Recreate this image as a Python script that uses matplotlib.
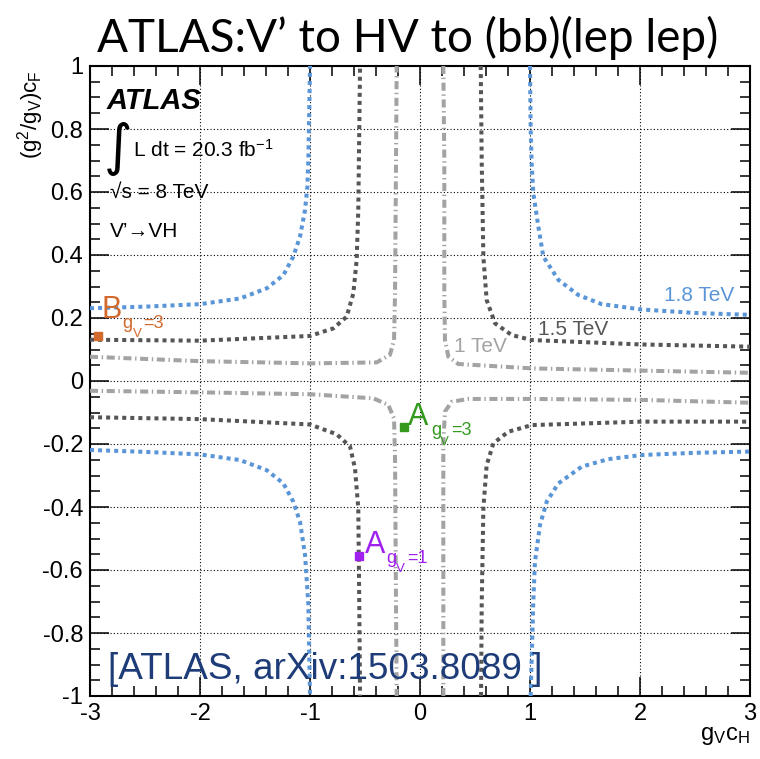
import matplotlib
matplotlib.use("Agg")
import matplotlib.pyplot as plt
from matplotlib import font_manager
from matplotlib.ticker import MultipleLocator, FuncFormatter

plt.rcParams['font.family'] = ['Liberation Sans', 'DejaVu Sans']
plt.rcParams['mathtext.default'] = 'regular'

# ---- 1.8 TeV limit contour (four branches) ----
x18_ul = [-3.0, -2.5, -2.0, -1.636, -1.394, -1.242, -1.152, -1.091, -1.045, -1.024, -1.015, -1.0]
y18_ul = [0.231, 0.236, 0.244, 0.262, 0.294, 0.336, 0.395, 0.458, 0.543, 0.617, 0.70, 1.0]
x18_ur = [1.0, 1.006, 1.015, 1.03, 1.076, 1.121, 1.258, 1.439, 1.652, 2.015, 2.5, 3.0]
y18_ur = [1.0, 0.8, 0.691, 0.596, 0.49, 0.395, 0.321, 0.273, 0.244, 0.227, 0.216, 0.210]
x18_ll = [-3.0, -2.5, -2.0, -1.636, -1.394, -1.242, -1.152, -1.091, -1.045, -1.015, -1.0]
y18_ll = [-0.219, -0.225, -0.233, -0.251, -0.283, -0.325, -0.383, -0.447, -0.552, -0.711, -1.0]
x18_lr = [1.006, 1.03, 1.045, 1.091, 1.152, 1.258, 1.47, 1.712, 2.015, 2.5, 3.0]
y18_lr = [-1.0, -0.70, -0.574, -0.457, -0.383, -0.325, -0.272, -0.248, -0.235, -0.228, -0.224]

# ---- 1.5 TeV limit contour ----
x15_ul = [-3.0, -2.0, -1.0, -0.788, -0.667, -0.606, -0.576, -0.561, -0.545]
y15_ul = [0.131, 0.128, 0.143, 0.167, 0.204, 0.278, 0.384, 0.543, 1.0]
x15_ur = [0.552, 0.561, 0.576, 0.606, 0.682, 0.833, 1.015, 2.015, 3.0]
y15_ur = [1.0, 0.70, 0.395, 0.257, 0.183, 0.146, 0.130, 0.116, 0.109]
x15_ll = [-3.0, -2.0, -1.0, -0.758, -0.636, -0.591, -0.561, -0.552, -0.545]
y15_ll = [-0.115, -0.121, -0.138, -0.169, -0.208, -0.277, -0.404, -0.711, -1.0]
x15_lr = [0.555, 0.561, 0.576, 0.606, 0.667, 0.803, 1.015, 2.015, 3.0]
y15_lr = [-1.0, -0.711, -0.404, -0.267, -0.198, -0.161, -0.140, -0.129, -0.129]

# ---- 1 TeV limit contour ----
x10_ul = [-3.0, -2.0, -1.0, -0.394, -0.273, -0.236, -0.227, -0.218, -0.212]
y10_ul = [0.077, 0.063, 0.056, 0.059, 0.083, 0.130, 0.278, 0.70, 1.0]
x10_ur = [0.212, 0.221, 0.221, 0.227, 0.258, 0.348, 1.015, 2.015, 3.0]
y10_ur = [1.0, 0.70, 0.278, 0.130, 0.077, 0.054, 0.040, 0.033, 0.026]
x10_ll = [-3.0, -2.0, -1.0, -0.424, -0.288, -0.236, -0.227, -0.218, -0.212]
y10_ll = [-0.031, -0.036, -0.042, -0.055, -0.076, -0.119, -0.246, -0.711, -1.0]
x10_lr = [0.212, 0.212, 0.212, 0.227, 0.288, 0.439, 1.015, 2.015, 3.0]
y10_lr = [-1.0, -0.711, -0.193, -0.097, -0.066, -0.057, -0.057, -0.060, -0.069]

# ---- benchmark model points ----
bench_names = ["B", "A", "A"]
bench_sub = ["3", "3", "1"]
bench_x = [-2.93, -0.143, -0.555]
bench_y = [0.144, -0.147, -0.555]
bench_colors = ["#d2692d", "#339a1e", "#a020f0"]

BLUE = "#5a96d7"
DARK = "#565656"
LIGHT = "#a3a3a3"

W, H = 760, 759
fig = plt.figure(figsize=(W / 100, H / 100), dpi=100)
ax = fig.add_axes([90 / W, 63 / H, 660 / W, 630 / H])
ax.set_xlim(-3, 3)
ax.set_ylim(-1, 1)

dot = dict(lw=2.9, ls=(0, (1, 1)), dash_capstyle='butt', zorder=3)
dashdot = dict(lw=2.9, ls=(0, (2.0, 0.9, 0.35, 0.9)), dash_capstyle='butt', zorder=3)

for xs, ys in [(x18_ul, y18_ul), (x18_ur, y18_ur), (x18_ll, y18_ll), (x18_lr, y18_lr)]:
    ax.plot(xs, ys, color=BLUE, **dot)
for xs, ys in [(x15_ul, y15_ul), (x15_ur, y15_ur), (x15_ll, y15_ll), (x15_lr, y15_lr)]:
    ax.plot(xs, ys, color=DARK, **dot)
for xs, ys in [(x10_ul, y10_ul), (x10_ur, y10_ur), (x10_ll, y10_ll), (x10_lr, y10_lr)]:
    ax.plot(xs, ys, color=LIGHT, **dashdot)

# contour labels
ax.text(2.535, 0.273, "1.8 TeV", color=BLUE, fontsize=15, ha='center', va='center')
ax.text(1.39, 0.165, "1.5 TeV", color=DARK, fontsize=15, ha='center', va='center')
ax.text(0.55, 0.11, "1 TeV", color=LIGHT, fontsize=15, ha='center', va='center')

# benchmark markers with A/B labels
for bx, by, c in zip(bench_x, bench_y, bench_colors):
    ax.plot([bx], [by], marker='s', ms=6, color=c, ls='none', zorder=5)

def bench_label(x, y, letter, sub, color, offs):
    g_dx, v_dx, eq_dx = offs
    ax.text(x, y, letter, color=color, fontsize=22, ha='left', va='baseline', zorder=6)
    ax.annotate("g", xy=(x, y), xytext=(g_dx, -7), textcoords='offset points',
                color=color, fontsize=13, ha='left', va='baseline', zorder=6)
    ax.annotate("V", xy=(x, y), xytext=(v_dx, -14), textcoords='offset points',
                color=color, fontsize=9.5, ha='left', va='baseline', zorder=6)
    ax.annotate("=" + sub, xy=(x, y), xytext=(eq_dx, -7), textcoords='offset points',
                color=color, fontsize=13, ha='left', va='baseline', zorder=6)

bench_label(-2.894, 0.20, bench_names[0], bench_sub[0], bench_colors[0], (15, 22.5, 29.5))
bench_label(-0.109, -0.14, bench_names[1], bench_sub[1], bench_colors[1], (16.5, 23, 31))
bench_label(-0.50, -0.546, bench_names[2], bench_sub[2], bench_colors[2], (15.5, 22, 30))

# experiment annotations
ax.text(-2.845, 0.862, "ATLAS", fontsize=21, fontweight='bold', fontstyle='italic',
        ha='left', va='baseline')
ax.text(-2.76, 0.735, r"$\int$", fontsize=28, ha='center', va='center',
        family=['DejaVu Sans'])
ax.text(-2.61, 0.711, r"L dt = 20.3 fb$^{-1}$", fontsize=15, ha='left', va='baseline')
ax.text(-2.82, 0.581, "\u221as = 8 TeV", fontsize=15, ha='left', va='baseline')
ax.text(-2.82, 0.457, "V\u2019\u2192VH", fontsize=15, ha='left', va='baseline')

# reference tag
narrow = None
try:
    font_manager.findfont(font_manager.FontProperties(family='Liberation Sans Narrow'),
                          fallback_to_default=False)
    narrow = 'Liberation Sans Narrow'
except Exception:
    narrow = None
if narrow:
    ax.text(-2.836, -0.945, "[ATLAS, arXiv:1503.8089 ]", fontsize=32, color="#1d3c78",
            family=[narrow], ha='left', va='baseline')
else:
    ax.text(-2.836, -0.945, "[ATLAS, arXiv:1503.8089 ]", fontsize=26.6, color="#1d3c78",
            ha='left', va='baseline')

# axes styling
ax.xaxis.set_major_locator(MultipleLocator(1))
ax.xaxis.set_minor_locator(MultipleLocator(0.2))
ax.yaxis.set_major_locator(MultipleLocator(0.2))
ax.yaxis.set_minor_locator(MultipleLocator(0.05))
fmt = FuncFormatter(lambda v, p: "%g" % round(v, 3) if abs(v) > 1e-9 else "0")
ax.xaxis.set_major_formatter(fmt)
ax.yaxis.set_major_formatter(fmt)
ax.tick_params(which='both', direction='in', top=True, right=True, labelsize=17, width=1.1)
ax.tick_params(which='major', length=14, pad=5)
ax.tick_params(which='minor', length=7)
ax.grid(True, which='major', color='black', ls=(0, (1, 2)), lw=0.8, zorder=1)
ax.set_axisbelow(True)
for s in ax.spines.values():
    s.set_linewidth(1.5)

fig.text(31 / W, 1 - 70 / H, r"(g$^{2}$/g$_{V}$)c$_{F}$", rotation=90, fontsize=16,
         ha='center', va='top')
fig.text(750 / W, 1 - 725 / H, r"g$_{V}$c$_{H}$", fontsize=17, ha='right', va='top')

fig.text(407.5 / W, 1 - 52 / H, "ATLAS:V\u2019 to HV to (bb)(lep lep)", fontsize=33,
         family=['Lato', 'DejaVu Sans'], ha='center', va='baseline')

fig.savefig("out.png", dpi=100)
